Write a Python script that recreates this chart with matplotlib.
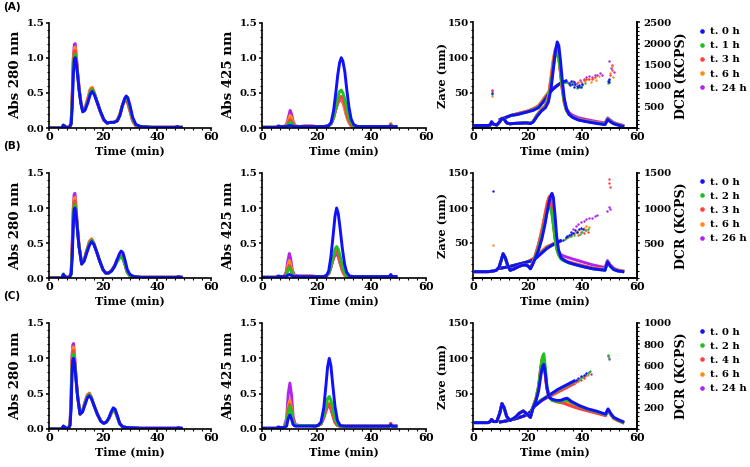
import matplotlib
matplotlib.use('Agg')
import matplotlib.pyplot as plt
from matplotlib.ticker import MultipleLocator, FormatStrFormatter
from matplotlib.lines import Line2D

plt.rcParams['font.family'] = ['DejaVu Serif']
plt.rcParams['font.weight'] = 'bold'

COLORS = ['#1010ff', '#20c020', '#ff4040', '#ff8c14', '#b024ee']
LEGEND_A = ['t. 0 h', 't. 1 h', 't. 3 h', 't. 6 h', 't. 24 h']
LEGEND_B = ['t. 0 h', 't. 2 h', 't. 3 h', 't. 6 h', 't. 26 h']
LEGEND_C = ['t. 0 h', 't. 2 h', 't. 4 h', 't. 6 h', 't. 24 h']

# ---------------- Row A : Abs 280 ----------------
A280_T = [0, 4.8, 5.3, 5.7, 6.3, 7.5, 8.2, 8.6, 9.0, 9.4, 9.7, 10.1, 10.6, 11.2, 11.8, 12.5, 13.3, 14.3,
          15.3, 16.0, 16.8, 17.8, 19.0, 20.3, 21.5, 22.7, 24.0, 25.3, 26.3, 27.2, 28.0, 28.6, 29.2, 30.0,
          31.0, 32.2, 34, 38, 46.8, 47.5, 48.2, 49.0]
A280_S0 = [0, 0, 0.04, 0.03, 0.01, 0.01, 0.05, 0.30, 0.75, 0.98, 1.00, 0.93, 0.75, 0.52, 0.35, 0.23, 0.25, 0.35,
           0.48, 0.52, 0.47, 0.37, 0.24, 0.12, 0.07, 0.08, 0.08, 0.10, 0.18, 0.32, 0.42, 0.455, 0.43, 0.32,
           0.15, 0.05, 0.02, 0.01, 0.01, 0.02, 0.01, 0.01]
A280_S1 = [0, 0, 0.04, 0.03, 0.01, 0.01, 0.06, 0.38, 0.85, 1.04, 1.05, 0.96, 0.76, 0.53, 0.36, 0.23, 0.26, 0.37,
           0.51, 0.55, 0.49, 0.38, 0.24, 0.12, 0.07, 0.08, 0.08, 0.10, 0.19, 0.32, 0.40, 0.42, 0.39, 0.28,
           0.12, 0.04, 0.02, 0.01, 0.01, 0.02, 0.01, 0.01]
A280_S2 = [0, 0, 0.04, 0.03, 0.01, 0.01, 0.07, 0.42, 0.92, 1.09, 1.10, 0.98, 0.77, 0.54, 0.36, 0.24, 0.27, 0.39,
           0.53, 0.56, 0.49, 0.37, 0.23, 0.11, 0.07, 0.08, 0.08, 0.11, 0.20, 0.33, 0.39, 0.40, 0.36, 0.25,
           0.10, 0.03, 0.02, 0.01, 0.01, 0.02, 0.01, 0.01]
A280_S3 = [0, 0, 0.04, 0.03, 0.01, 0.01, 0.08, 0.46, 0.97, 1.14, 1.15, 1.00, 0.78, 0.55, 0.37, 0.24, 0.28, 0.41,
           0.56, 0.58, 0.50, 0.37, 0.23, 0.11, 0.07, 0.08, 0.08, 0.11, 0.21, 0.33, 0.39, 0.40, 0.35, 0.24,
           0.10, 0.03, 0.02, 0.01, 0.01, 0.02, 0.01, 0.01]
A280_S4 = [0, 0, 0.04, 0.03, 0.01, 0.01, 0.08, 0.48, 1.00, 1.19, 1.20, 1.03, 0.79, 0.55, 0.37, 0.24, 0.28, 0.41,
           0.55, 0.57, 0.50, 0.37, 0.23, 0.11, 0.07, 0.08, 0.08, 0.11, 0.20, 0.32, 0.38, 0.39, 0.35, 0.24,
           0.10, 0.03, 0.02, 0.01, 0.01, 0.02, 0.01, 0.01]

# ---------------- Row B : Abs 280 ----------------
B280_T = [0, 4.8, 5.3, 5.7, 6.3, 7.5, 8.2, 8.6, 9.0, 9.3, 9.6, 10.0, 10.5, 11.1, 12.1, 13.0, 14.0, 15.0,
          15.8, 16.6, 17.6, 18.8, 20.0, 21.0, 22.0, 23.2, 24.3, 25.2, 26.0, 26.7, 27.4, 28.2, 29.0, 30.0,
          31.5, 34, 40, 47, 48, 49]
B280_S0 = [0, 0, 0.05, 0.03, 0.01, 0.01, 0.05, 0.30, 0.75, 0.97, 1.00, 0.92, 0.70, 0.45, 0.20, 0.24, 0.36, 0.47,
           0.52, 0.48, 0.38, 0.24, 0.12, 0.07, 0.07, 0.10, 0.17, 0.26, 0.34, 0.385, 0.36, 0.25, 0.12, 0.05,
           0.02, 0.01, 0.01, 0.01, 0.02, 0.01]
B280_S1 = [0, 0, 0.06, 0.03, 0.01, 0.01, 0.06, 0.38, 0.86, 1.03, 1.05, 0.95, 0.71, 0.46, 0.20, 0.25, 0.38, 0.50,
           0.54, 0.49, 0.38, 0.24, 0.12, 0.07, 0.07, 0.10, 0.16, 0.23, 0.28, 0.30, 0.28, 0.19, 0.08, 0.03,
           0.02, 0.01, 0.01, 0.01, 0.01, 0.01]
B280_S2 = [0, 0, 0.05, 0.03, 0.01, 0.01, 0.07, 0.42, 0.92, 1.08, 1.10, 0.97, 0.72, 0.46, 0.20, 0.25, 0.39, 0.51,
           0.55, 0.49, 0.38, 0.24, 0.12, 0.07, 0.07, 0.11, 0.17, 0.25, 0.30, 0.32, 0.29, 0.19, 0.08, 0.03,
           0.02, 0.01, 0.01, 0.01, 0.01, 0.01]
B280_S3 = [0, 0, 0.05, 0.03, 0.01, 0.01, 0.08, 0.46, 0.97, 1.13, 1.15, 1.00, 0.73, 0.47, 0.20, 0.26, 0.40, 0.53,
           0.56, 0.50, 0.38, 0.24, 0.12, 0.07, 0.07, 0.11, 0.18, 0.26, 0.31, 0.32, 0.29, 0.19, 0.08, 0.03,
           0.02, 0.01, 0.01, 0.01, 0.01, 0.01]
B280_S4 = [0, 0, 0.05, 0.03, 0.01, 0.01, 0.08, 0.50, 1.02, 1.19, 1.21, 1.03, 0.74, 0.47, 0.20, 0.26, 0.40, 0.52,
           0.55, 0.50, 0.38, 0.24, 0.12, 0.07, 0.07, 0.11, 0.17, 0.25, 0.30, 0.30, 0.27, 0.18, 0.08, 0.03,
           0.02, 0.01, 0.01, 0.01, 0.01, 0.01]

# ---------------- Row C : Abs 280 ----------------
C280_T = [0, 4.8, 5.3, 5.7, 6.3, 7.2, 7.8, 8.2, 8.5, 8.8, 9.1, 9.5, 10.0, 10.6, 11.5, 12.4, 13.4, 14.2,
          14.9, 15.7, 16.7, 17.9, 19.2, 20.3, 21.3, 22.2, 23.0, 23.8, 24.5, 25.3, 26.2, 27.3, 29, 34, 40, 47, 48, 49]
C280_S0 = [0, 0, 0.04, 0.03, 0.01, 0.01, 0.05, 0.30, 0.75, 0.98, 1.00, 0.92, 0.70, 0.45, 0.21, 0.24, 0.35, 0.44,
           0.47, 0.43, 0.33, 0.21, 0.11, 0.08, 0.10, 0.16, 0.24, 0.30, 0.28, 0.19, 0.08, 0.03, 0.02, 0.01, 0.01,
           0.01, 0.02, 0.01]
C280_S1 = [0, 0, 0.04, 0.03, 0.01, 0.01, 0.06, 0.38, 0.86, 1.04, 1.06, 0.95, 0.71, 0.46, 0.21, 0.25, 0.37, 0.46,
           0.49, 0.44, 0.33, 0.21, 0.11, 0.08, 0.10, 0.15, 0.22, 0.27, 0.25, 0.17, 0.07, 0.03, 0.02, 0.01, 0.01,
           0.01, 0.01, 0.01]
C280_S2 = [0, 0, 0.04, 0.03, 0.01, 0.01, 0.07, 0.42, 0.92, 1.09, 1.11, 0.97, 0.72, 0.46, 0.21, 0.25, 0.38, 0.47,
           0.50, 0.44, 0.33, 0.21, 0.11, 0.08, 0.10, 0.15, 0.22, 0.27, 0.25, 0.17, 0.07, 0.03, 0.02, 0.01, 0.01,
           0.01, 0.01, 0.01]
C280_S3 = [0, 0, 0.04, 0.03, 0.01, 0.01, 0.08, 0.46, 0.97, 1.14, 1.16, 1.00, 0.73, 0.47, 0.21, 0.26, 0.39, 0.48,
           0.51, 0.45, 0.33, 0.21, 0.11, 0.08, 0.10, 0.15, 0.22, 0.27, 0.25, 0.17, 0.07, 0.03, 0.02, 0.01, 0.01,
           0.01, 0.01, 0.01]
C280_S4 = [0, 0, 0.04, 0.03, 0.01, 0.01, 0.08, 0.50, 1.02, 1.19, 1.21, 1.03, 0.74, 0.47, 0.21, 0.26, 0.39, 0.48,
           0.50, 0.45, 0.33, 0.21, 0.11, 0.08, 0.10, 0.15, 0.22, 0.27, 0.25, 0.17, 0.07, 0.03, 0.02, 0.01, 0.01,
           0.01, 0.01, 0.01]

# ---------------- Row A : Abs 425 ----------------
A425_T = [0, 5.3, 6.0, 6.8, 8.0, 9.0, 9.7, 10.3, 10.8, 11.4, 12.2, 13.5, 16, 18, 20, 22.5, 24.3, 25.3, 26.2,
          27.0, 27.7, 28.4, 29.0, 29.6, 30.3, 31.0, 31.8, 32.6, 33.5, 35, 40, 46.6, 47.1, 47.6, 49]
A425_S0 = [0.01, 0.01, 0.03, 0.02, 0.02, 0.02, 0.03, 0.035, 0.03, 0.025, 0.02, 0.02, 0.02, 0.02, 0.02, 0.02,
           0.03, 0.08, 0.25, 0.50, 0.75, 0.93, 1.00, 0.95, 0.80, 0.55, 0.30, 0.13, 0.05, 0.02, 0.02, 0.02, 0.03,
           0.02, 0.02]
A425_S1 = [0.01, 0.01, 0.02, 0.02, 0.02, 0.03, 0.06, 0.08, 0.07, 0.04, 0.02, 0.02, 0.02, 0.02, 0.02, 0.02,
           0.03, 0.06, 0.15, 0.30, 0.43, 0.52, 0.54, 0.50, 0.41, 0.28, 0.15, 0.07, 0.03, 0.02, 0.02, 0.02, 0.04,
           0.02, 0.02]
A425_S2 = [0.01, 0.01, 0.02, 0.02, 0.02, 0.03, 0.08, 0.12, 0.10, 0.05, 0.02, 0.02, 0.02, 0.02, 0.02, 0.02,
           0.03, 0.06, 0.14, 0.27, 0.37, 0.43, 0.45, 0.41, 0.32, 0.20, 0.10, 0.04, 0.02, 0.02, 0.02, 0.02, 0.06,
           0.02, 0.02]
A425_S3 = [0.01, 0.01, 0.02, 0.02, 0.02, 0.04, 0.12, 0.18, 0.15, 0.07, 0.03, 0.02, 0.03, 0.03, 0.02, 0.02,
           0.03, 0.07, 0.16, 0.28, 0.37, 0.42, 0.42, 0.37, 0.27, 0.16, 0.08, 0.03, 0.02, 0.02, 0.02, 0.02, 0.06,
           0.02, 0.02]
A425_S4 = [0.01, 0.01, 0.02, 0.02, 0.02, 0.05, 0.16, 0.25, 0.20, 0.09, 0.03, 0.02, 0.03, 0.03, 0.02, 0.02,
           0.03, 0.06, 0.15, 0.26, 0.35, 0.40, 0.40, 0.36, 0.27, 0.16, 0.08, 0.03, 0.02, 0.02, 0.02, 0.02, 0.04,
           0.02, 0.02]

# ---------------- Row B : Abs 425 ----------------
B425_T = [0, 5.3, 6.0, 6.8, 8.0, 8.8, 9.5, 10.0, 10.5, 11.1, 11.9, 13.5, 16, 18, 20, 22.3, 23.5, 24.4, 25.2,
          26.0, 26.7, 27.3, 27.9, 28.6, 29.4, 30.2, 31.0, 32.0, 33.5, 40, 46.6, 47.1, 47.6, 49]
B425_S0 = [0.01, 0.01, 0.03, 0.02, 0.02, 0.02, 0.04, 0.05, 0.04, 0.03, 0.02, 0.02, 0.02, 0.02, 0.02, 0.02,
           0.03, 0.10, 0.30, 0.60, 0.88, 1.00, 0.92, 0.70, 0.42, 0.20, 0.08, 0.03, 0.02, 0.02, 0.02, 0.05, 0.02, 0.02]
B425_S1 = [0.01, 0.01, 0.02, 0.02, 0.02, 0.04, 0.11, 0.15, 0.12, 0.05, 0.02, 0.02, 0.02, 0.02, 0.02, 0.02,
           0.03, 0.06, 0.16, 0.30, 0.41, 0.45, 0.41, 0.31, 0.17, 0.07, 0.03, 0.02, 0.02, 0.02, 0.02, 0.03, 0.02, 0.02]
B425_S2 = [0.01, 0.01, 0.02, 0.02, 0.02, 0.05, 0.14, 0.18, 0.14, 0.06, 0.02, 0.02, 0.02, 0.02, 0.02, 0.02,
           0.03, 0.06, 0.15, 0.27, 0.36, 0.38, 0.33, 0.23, 0.12, 0.05, 0.03, 0.02, 0.02, 0.02, 0.02, 0.04, 0.02, 0.02]
B425_S3 = [0.01, 0.01, 0.02, 0.02, 0.02, 0.06, 0.18, 0.25, 0.19, 0.08, 0.03, 0.02, 0.03, 0.03, 0.02, 0.02,
           0.03, 0.07, 0.17, 0.30, 0.38, 0.40, 0.34, 0.22, 0.11, 0.04, 0.02, 0.02, 0.02, 0.02, 0.02, 0.04, 0.02, 0.02]
B425_S4 = [0.01, 0.01, 0.02, 0.02, 0.02, 0.08, 0.25, 0.35, 0.27, 0.11, 0.04, 0.03, 0.03, 0.03, 0.02, 0.02,
           0.03, 0.06, 0.15, 0.26, 0.33, 0.35, 0.30, 0.20, 0.10, 0.04, 0.02, 0.02, 0.02, 0.02, 0.02, 0.03, 0.02, 0.02]

# ---------------- Row C : Abs 425 ----------------
C425_T = [0, 5.3, 6.0, 6.8, 8.0, 9.0, 9.6, 10.2, 10.8, 11.4, 12.2, 14, 16, 18, 19.5, 20.5, 21.6, 22.6, 23.4,
          24.0, 24.6, 25.2, 25.9, 26.7, 27.6, 28.6, 30, 35, 40, 46.6, 47.1, 47.6, 49]
C425_S0 = [0.01, 0.01, 0.03, 0.02, 0.02, 0.04, 0.15, 0.20, 0.14, 0.06, 0.04, 0.04, 0.04, 0.04, 0.04, 0.05,
           0.10, 0.30, 0.62, 0.88, 1.00, 0.90, 0.62, 0.32, 0.12, 0.05, 0.04, 0.04, 0.04, 0.04, 0.06, 0.04, 0.04]
C425_S1 = [0.01, 0.01, 0.02, 0.02, 0.02, 0.08, 0.24, 0.32, 0.24, 0.09, 0.05, 0.05, 0.05, 0.05, 0.04, 0.05,
           0.08, 0.19, 0.33, 0.43, 0.46, 0.41, 0.28, 0.14, 0.06, 0.04, 0.04, 0.04, 0.04, 0.04, 0.05, 0.04, 0.04]
C425_S2 = [0.01, 0.01, 0.02, 0.02, 0.02, 0.09, 0.27, 0.35, 0.26, 0.10, 0.05, 0.05, 0.05, 0.05, 0.04, 0.05,
           0.07, 0.16, 0.26, 0.33, 0.35, 0.30, 0.20, 0.10, 0.05, 0.04, 0.04, 0.04, 0.04, 0.04, 0.08, 0.04, 0.04]
C425_S3 = [0.01, 0.01, 0.02, 0.02, 0.02, 0.10, 0.32, 0.41, 0.30, 0.11, 0.05, 0.05, 0.05, 0.05, 0.04, 0.05,
           0.08, 0.18, 0.29, 0.36, 0.37, 0.32, 0.21, 0.10, 0.05, 0.04, 0.04, 0.04, 0.04, 0.04, 0.08, 0.04, 0.04]
C425_S4 = [0.01, 0.01, 0.02, 0.02, 0.02, 0.15, 0.50, 0.65, 0.48, 0.17, 0.06, 0.05, 0.05, 0.05, 0.04, 0.05,
           0.07, 0.16, 0.26, 0.32, 0.33, 0.28, 0.19, 0.09, 0.05, 0.04, 0.04, 0.04, 0.04, 0.04, 0.06, 0.04, 0.04]

# ---------------- Row A : DCR (right axis, KCPS) ----------------
ADCR_T = [0, 5.5, 6.3, 6.8, 7.5, 8.7, 9.8, 10.6, 11.4, 12.3, 13.5, 15.5, 17.5, 19.5, 21.0, 22.0, 23.5, 25.0,
          26.5, 27.6, 28.6, 29.4, 30.1, 30.8, 31.4, 32.0, 32.7, 33.4, 34.2, 35.2, 36.5, 38.5, 41.5, 45, 48.3,
          49.3, 50.2, 51.5, 53, 54.8]
ADCR_S0 = [60, 60, 70, 150, 90, 70, 150, 230, 210, 120, 100, 110, 115, 120, 105, 140, 280, 400, 480, 620, 950,
           1400, 1800, 2040, 1950, 1600, 1100, 700, 450, 320, 250, 190, 150, 110, 80, 200, 150, 100, 70, 40]
ADCR_S1 = [60, 60, 70, 140, 90, 70, 150, 230, 210, 120, 100, 110, 115, 125, 110, 150, 300, 420, 500, 680, 1050,
           1450, 1720, 1750, 1650, 1350, 950, 620, 420, 310, 250, 195, 155, 115, 85, 210, 160, 105, 75, 45]
ADCR_S2 = [60, 60, 70, 140, 90, 70, 150, 230, 210, 120, 100, 110, 115, 125, 110, 150, 310, 430, 520, 720, 1150,
           1550, 1800, 1820, 1650, 1300, 900, 600, 420, 320, 260, 205, 165, 125, 95, 215, 165, 110, 80, 50]
ADCR_S3 = [60, 60, 70, 140, 90, 70, 150, 230, 210, 120, 100, 110, 115, 125, 110, 150, 320, 440, 540, 760, 1250,
           1650, 1880, 1860, 1650, 1300, 880, 580, 410, 320, 265, 210, 170, 130, 100, 220, 170, 115, 85, 55]
ADCR_S4 = [60, 60, 70, 140, 90, 70, 150, 230, 210, 120, 100, 110, 115, 125, 110, 150, 310, 430, 530, 740, 1200,
           1600, 1840, 1850, 1680, 1350, 930, 640, 460, 360, 300, 245, 200, 155, 120, 240, 190, 130, 95, 65]

# ---------------- Row A : Zave line (left axis, nm) ----------------
AZ_T = [10, 12, 14, 16, 18, 20, 22, 24, 25.5, 27, 28, 29.5, 31, 32.5, 34]
AZ_S0 = [12, 15, 18, 19, 21, 23, 25, 29, 36, 44, 50, 56, 61, 65, 67]
AZ_S1 = [12, 15, 18, 19, 21, 23, 26, 30, 37, 45, 51, 56, 61, 64, 65]
AZ_S2 = [12, 15, 18, 20, 22, 24, 27, 31, 38, 46, 51, 57, 61, 64, 66]
AZ_S3 = [12, 15, 18, 20, 22, 24, 27, 32, 40, 48, 52, 57, 61, 64, 66]
AZ_S4 = [12, 15, 18, 20, 22, 24, 27, 31, 39, 47, 52, 57, 61, 64, 66]

# Row A : Zave scattered points (time, size, series index)
AZP_T = [6.8, 6.9, 6.8, 6.8, 6.9,
         34.5, 35.2, 35.8, 36.3, 36.9, 37.4, 37.9, 38.4, 38.9, 39.4, 39.9, 35.5, 37.0, 49.5, 49.7, 49.8,
         35.0, 36.0, 37.0, 38.0, 38.6, 39.3, 40.0, 40.8, 49.4, 49.6,
         36.5, 38.0, 39.5, 40.5, 41.5, 42.5, 43.5, 44.5, 50.3, 50.7,
         37.0, 38.5, 39.8, 41.0, 42.0, 43.0, 44.0, 45.0, 46.0, 50.2, 50.8, 51.3,
         39.0, 40.5, 41.5, 42.5, 43.5, 44.5, 45.5, 46.5, 47.3, 49.8, 50.4, 51.0, 51.6]
AZP_V = [50, 48, 52, 46, 54,
         66, 64, 67, 63, 65, 62, 60, 58, 61, 59, 62, 61, 59, 67, 70, 65,
         63, 65, 61, 57, 60, 58, 61, 64, 64, 68,
         67, 64, 66, 68, 69, 70, 69, 72, 75, 82,
         66, 65, 63, 67, 70, 66, 71, 68, 74, 78, 88, 72,
         68, 70, 72, 74, 73, 75, 76, 78, 76, 95, 85, 90, 80]
AZP_K = [0, 1, 2, 3, 4,
         0, 0, 0, 0, 0, 0, 0, 0, 0, 0, 0, 0, 0, 0, 0, 0,
         1, 1, 1, 1, 1, 1, 1, 1, 1, 1,
         2, 2, 2, 2, 2, 2, 2, 2, 2, 2,
         3, 3, 3, 3, 3, 3, 3, 3, 3, 3, 3, 3,
         4, 4, 4, 4, 4, 4, 4, 4, 4, 4, 4, 4, 4]

# ---------------- Row B : DCR ----------------
BDCR_T = [0, 5.5, 6.5, 7.5, 8.5, 9.5, 10.3, 11.0, 11.8, 12.7, 13.6, 15, 17, 19, 20.2, 21.0, 21.8, 22.8, 24,
          25.2, 26.3, 27.2, 27.9, 28.5, 28.9, 29.4, 30.0, 30.6, 31.3, 32.2, 33.5, 35, 37.5, 40.5, 44, 48.3,
          49.2, 50.2, 51.5, 53, 54.8]
BDCR_S0 = [90, 90, 95, 100, 110, 150, 250, 350, 290, 180, 110, 130, 170, 190, 170, 130, 190, 280, 400, 560,
           760, 960, 1100, 1180, 1210, 1150, 900, 600, 400, 290, 250, 220, 190, 160, 130, 110, 230, 170, 120,
           100, 90]
BDCR_S1 = [90, 90, 95, 100, 110, 150, 250, 340, 290, 180, 110, 130, 170, 190, 170, 135, 200, 300, 430, 600,
           800, 960, 1010, 980, 900, 750, 560, 420, 330, 270, 240, 215, 190, 160, 130, 110, 230, 170, 120, 100, 90]
BDCR_S2 = [90, 90, 95, 100, 110, 150, 250, 340, 290, 180, 110, 130, 170, 190, 170, 140, 210, 320, 470, 660,
           880, 1060, 1150, 1100, 980, 800, 580, 430, 340, 280, 250, 225, 200, 170, 140, 120, 235, 175, 125, 105, 95]
BDCR_S3 = [90, 90, 95, 100, 110, 150, 250, 340, 290, 180, 110, 130, 170, 190, 170, 140, 215, 330, 490, 690,
           910, 1090, 1170, 1100, 960, 780, 570, 430, 340, 285, 255, 230, 205, 175, 145, 125, 240, 180, 130, 110, 100]
BDCR_S4 = [90, 90, 95, 100, 110, 150, 250, 340, 290, 180, 110, 130, 170, 190, 170, 140, 210, 320, 480, 680,
           890, 1060, 1140, 1080, 950, 790, 600, 470, 380, 330, 310, 290, 260, 225, 185, 150, 250, 190, 140, 115, 100]

BZ_T = [10, 13, 16, 19, 21, 23, 25, 27, 29, 30.5, 32]
BZ_S0 = [14, 16, 19, 22, 24, 28, 35, 42, 47, 50, 53]
BZ_S1 = [14, 16, 19, 22, 24, 29, 36, 43, 47, 50, 53]
BZ_S2 = [14, 16, 19, 22, 25, 30, 37, 44, 48, 51, 53]
BZ_S3 = [14, 16, 19, 22, 25, 30, 38, 45, 48, 51, 53]
BZ_S4 = [14, 16, 19, 22, 25, 30, 37, 44, 48, 51, 53]

BZP_T = [7.3, 7.2,
         33.0, 34.0, 35.0, 35.8, 36.5, 37.2, 38.0, 38.8, 39.5, 40.3, 34.5, 36.0,
         33.5, 34.8, 36.0, 37.0, 38.0, 39.0, 40.0, 41.0, 42.0,
         34.0, 35.5, 37.0, 38.5, 39.5, 40.5, 41.5, 42.0, 49.6, 49.9, 50.2,
         34.5, 36.0, 37.5, 38.5, 39.5, 40.5, 41.5, 42.5,
         36.5, 37.5, 38.5, 39.5, 40.5, 41.5, 42.5, 43.5, 44.5, 45.2, 49.2, 49.7, 50.3]
BZP_V = [124, 47,
         55, 58, 62, 65, 64, 68, 66, 70, 72, 70, 60, 63,
         56, 58, 60, 62, 65, 63, 66, 68, 70,
         57, 60, 64, 62, 66, 64, 68, 66, 142, 136, 130,
         58, 62, 66, 68, 70, 72, 74, 73,
         70, 74, 77, 80, 82, 84, 86, 85, 88, 90, 95, 101, 98]
BZP_K = [0, 3,
         0, 0, 0, 0, 0, 0, 0, 0, 0, 0, 0, 0,
         1, 1, 1, 1, 1, 1, 1, 1, 1,
         2, 2, 2, 2, 2, 2, 2, 2, 2, 2, 2,
         3, 3, 3, 3, 3, 3, 3, 3,
         4, 4, 4, 4, 4, 4, 4, 4, 4, 4, 4, 4, 4]

# ---------------- Row C : DCR ----------------
CDCR_T = [0, 5.5, 6.3, 6.8, 7.5, 8.7, 9.8, 10.6, 11.4, 12.3, 13.5, 15.5, 17.0, 18.4, 19.8, 21.0, 22.0, 23.0,
          24.0, 24.8, 25.4, 25.9, 26.4, 27.0, 27.8, 29.0, 30.5, 32.0, 33.5, 34.5, 36.0, 39, 42, 45, 48.5,
          49.4, 50.3, 51.5, 53, 54.8]
CDCR_S0 = [60, 60, 70, 90, 70, 70, 150, 240, 200, 120, 80, 110, 150, 170, 140, 110, 200, 260, 360, 500, 590,
           610, 540, 400, 300, 280, 270, 270, 285, 290, 260, 220, 190, 170, 140, 190, 150, 110, 90, 70]
CDCR_S1 = [60, 60, 70, 90, 70, 70, 150, 240, 200, 120, 80, 110, 150, 170, 140, 110, 210, 280, 400, 580, 680,
           710, 600, 420, 300, 270, 260, 260, 270, 275, 250, 215, 185, 165, 135, 185, 145, 105, 85, 65]
CDCR_S2 = [60, 60, 70, 90, 70, 70, 150, 240, 200, 120, 80, 110, 150, 170, 140, 110, 210, 280, 390, 560, 650,
           640, 520, 380, 300, 280, 260, 250, 240, 230, 215, 190, 170, 150, 125, 180, 140, 100, 80, 60]
CDCR_S3 = [60, 60, 70, 90, 70, 70, 150, 240, 200, 120, 80, 110, 150, 170, 140, 110, 215, 290, 410, 590, 680,
           660, 540, 390, 300, 270, 255, 250, 255, 260, 240, 205, 180, 160, 130, 180, 140, 100, 80, 60]
CDCR_S4 = [60, 60, 70, 90, 70, 70, 150, 240, 200, 120, 80, 110, 150, 170, 140, 110, 210, 280, 400, 570, 660,
           650, 530, 390, 300, 270, 260, 255, 265, 270, 245, 210, 182, 162, 132, 182, 142, 102, 82, 62]

CZ_T = [10, 13, 16, 19, 21, 22.5, 25, 28, 31, 34, 37]
CZ_S0 = [10, 12, 15, 19, 24, 32, 40, 48, 56, 62, 68]
CZ_S1 = [10, 12, 15, 19, 24, 33, 41, 48, 55, 61, 67]
CZ_S2 = [10, 12, 15, 19, 24, 33, 40, 46, 52, 58, 64]
CZ_S3 = [10, 12, 15, 19, 24, 33, 41, 48, 55, 61, 67]
CZ_S4 = [10, 12, 15, 19, 24, 33, 41, 48, 55, 61, 67]

CZP_T = [37.5, 38.5, 39.5, 40.5, 41.5, 38.0, 39.0, 40.0, 41.0, 42.0, 42.8, 49.4, 49.6,
         37.5, 38.5, 39.5, 40.5, 38.0, 39.0, 40.0, 41.0, 42.0, 38.5, 39.5, 40.5, 41.5, 42.5, 43.2, 49.5, 49.7]
CZP_V = [70, 72, 75, 77, 79, 69, 71, 74, 76, 79, 82, 105, 100,
         66, 68, 70, 72, 69, 71, 73, 75, 77, 70, 73, 75, 77, 80, 78, 103, 99]
CZP_K = [0, 0, 0, 0, 0, 1, 1, 1, 1, 1, 1, 1, 1,
         2, 2, 2, 2, 3, 3, 3, 3, 3, 4, 4, 4, 4, 4, 4, 4, 4]

# ------------------------------------------------------------------
ROW_TOP_PX = [22.5, 173, 323]
ROW_BOT_PX = [128, 278, 429]
COL_LEFT_PX = [49, 262, 473]
COL_RIGHT_PX = [211, 426, 637]
W, H = 750, 467
DRAW_ORDER = [4, 3, 2, 1, 0]
YTICK_FS = 7.3
XTICK_FS = 8.1
XLABEL_FS = 8.0
XLABEL_DROP_PX = 22.5
LW = 2.1

fig = plt.figure(figsize=(W / 100, H / 100), dpi=100)


def make_axes(r, c):
    l = COL_LEFT_PX[c] / W
    b = 1 - ROW_BOT_PX[r] / H
    w = (COL_RIGHT_PX[c] - COL_LEFT_PX[c]) / W
    h = (ROW_BOT_PX[r] - ROW_TOP_PX[r]) / H
    return fig.add_axes([l, b, w, h])


def style_axis(ax, right=False):
    for s in ['top'] + ([] if right else ['right']):
        ax.spines[s].set_visible(False)
    for s in ax.spines.values():
        s.set_linewidth(1.2)
    ax.tick_params(which='major', direction='out', length=2.2, width=1.1, pad=1.0)
    ax.tick_params(which='minor', direction='out', length=1.4, width=0.8)
    ax.tick_params(axis='x', which='major', labelsize=XTICK_FS, pad=0.2)
    ax.tick_params(axis='y', which='major', labelsize=YTICK_FS)


def place_labels(ax, r, c, ylabel_x_px):
    hpx = ROW_BOT_PX[r] - ROW_TOP_PX[r]
    wpx = COL_RIGHT_PX[c] - COL_LEFT_PX[c]
    ax.xaxis.set_label_coords(0.5, -XLABEL_DROP_PX / hpx)
    ax.xaxis.label.set_va('center')
    ax.yaxis.set_label_coords((ylabel_x_px - COL_LEFT_PX[c]) / wpx, 0.5)
    ax.yaxis.label.set_va('center')


def abs_panel(r, c, T, series, ylabel, ylabel_x_px):
    ax = make_axes(r, c)
    for k in DRAW_ORDER:
        ax.plot(T, series[k], color=COLORS[k], lw=LW, solid_joinstyle='round')
    ax.set_xlim(0, 60)
    ax.set_ylim(0, 1.5)
    ax.xaxis.set_major_locator(MultipleLocator(20))
    ax.xaxis.set_minor_locator(MultipleLocator(20 / 6))
    ax.yaxis.set_major_locator(MultipleLocator(0.5))
    ax.yaxis.set_minor_locator(MultipleLocator(0.1))
    ax.yaxis.set_major_formatter(FormatStrFormatter('%.1f'))
    style_axis(ax)
    ax.set_xlabel('Time (min)', fontsize=XLABEL_FS, fontweight='bold')
    ax.set_ylabel(ylabel, fontsize=9.6, fontweight='bold')
    place_labels(ax, r, c, ylabel_x_px)
    return ax


def dls_panel(r, dcr_t, dcr, z_t, z, zp_t, zp_v, zp_k, dcr_max, dcr_major, labels):
    ax = make_axes(r, 2)
    ax2 = ax.twinx()
    for k in DRAW_ORDER:
        ax.plot(z_t, z[k], color=COLORS[k], lw=LW)
        xs = [t for t, kk in zip(zp_t, zp_k) if kk == k]
        ys = [v for v, kk in zip(zp_v, zp_k) if kk == k]
        ax.scatter(xs, ys, s=3, color=COLORS[k], linewidths=0)
        ax2.plot(dcr_t, dcr[k], color=COLORS[k], lw=LW)
    ax.set_xlim(0, 60)
    ax.set_ylim(0, 150)
    ax2.set_ylim(0, dcr_max)
    ax.xaxis.set_major_locator(MultipleLocator(20))
    ax.xaxis.set_minor_locator(MultipleLocator(20 / 6))
    ax.set_yticks([50, 100, 150])
    ax.yaxis.set_minor_locator(MultipleLocator(10))
    ax2.set_yticks([dcr_major * i for i in range(1, int(round(dcr_max / dcr_major)) + 1)])
    ax2.yaxis.set_minor_locator(MultipleLocator(dcr_major / 5))
    style_axis(ax, right=True)
    style_axis(ax2, right=True)
    ax2.tick_params(axis='y', which='major', pad=2.5)
    ax2.spines['left'].set_visible(False)
    ax.set_xlabel('Time (min)', fontsize=XLABEL_FS, fontweight='bold')
    ax.set_ylabel('Zave (nm)', fontsize=8.2, fontweight='bold')
    ax2.set_ylabel('DCR (KCPS)', fontsize=9.0, fontweight='bold')
    place_labels(ax, r, 2, 443)
    ax2.yaxis.set_label_coords((681 - COL_LEFT_PX[2]) / (COL_RIGHT_PX[2] - COL_LEFT_PX[2]), 0.5)
    ax2.yaxis.label.set_va('center')
    handles = [Line2D([], [], ls='none', marker='o', ms=2.3, color=COLORS[k]) for k in range(5)]
    top = 1 - (ROW_TOP_PX[r] + 4.5) / H
    fig.legend(handles, labels, loc='upper left', bbox_to_anchor=(698 / W, top), frameon=False,
               handlelength=0.8, handletextpad=0.4, labelspacing=0.5, borderaxespad=0,
               borderpad=0, prop={'weight': 'bold', 'size': 7.3, 'family': 'DejaVu Serif'})
    return ax


abs_panel(0, 0, A280_T, [A280_S0, A280_S1, A280_S2, A280_S3, A280_S4], 'Abs 280 nm', 16)
abs_panel(1, 0, B280_T, [B280_S0, B280_S1, B280_S2, B280_S3, B280_S4], 'Abs 280 nm', 16)
abs_panel(2, 0, C280_T, [C280_S0, C280_S1, C280_S2, C280_S3, C280_S4], 'Abs 280 nm', 16)
abs_panel(0, 1, A425_T, [A425_S0, A425_S1, A425_S2, A425_S3, A425_S4], 'Abs 425 nm', 229)
abs_panel(1, 1, B425_T, [B425_S0, B425_S1, B425_S2, B425_S3, B425_S4], 'Abs 425 nm', 229)
abs_panel(2, 1, C425_T, [C425_S0, C425_S1, C425_S2, C425_S3, C425_S4], 'Abs 425 nm', 229)

dls_panel(0, ADCR_T, [ADCR_S0, ADCR_S1, ADCR_S2, ADCR_S3, ADCR_S4],
          AZ_T, [AZ_S0, AZ_S1, AZ_S2, AZ_S3, AZ_S4], AZP_T, AZP_V, AZP_K, 2500, 500, LEGEND_A)
dls_panel(1, BDCR_T, [BDCR_S0, BDCR_S1, BDCR_S2, BDCR_S3, BDCR_S4],
          BZ_T, [BZ_S0, BZ_S1, BZ_S2, BZ_S3, BZ_S4], BZP_T, BZP_V, BZP_K, 1500, 500, LEGEND_B)
dls_panel(2, CDCR_T, [CDCR_S0, CDCR_S1, CDCR_S2, CDCR_S3, CDCR_S4],
          CZ_T, [CZ_S0, CZ_S1, CZ_S2, CZ_S3, CZ_S4], CZP_T, CZP_V, CZP_K, 1000, 200, LEGEND_C)

for txt, y in [('(A)', 7.5), ('(B)', 146), ('(C)', 296)]:
    fig.text(3 / W, 1 - y / H, txt, fontsize=7.6, fontweight='bold', family='DejaVu Sans',
             va='center', ha='left')

fig.savefig('out.png', dpi=100)
